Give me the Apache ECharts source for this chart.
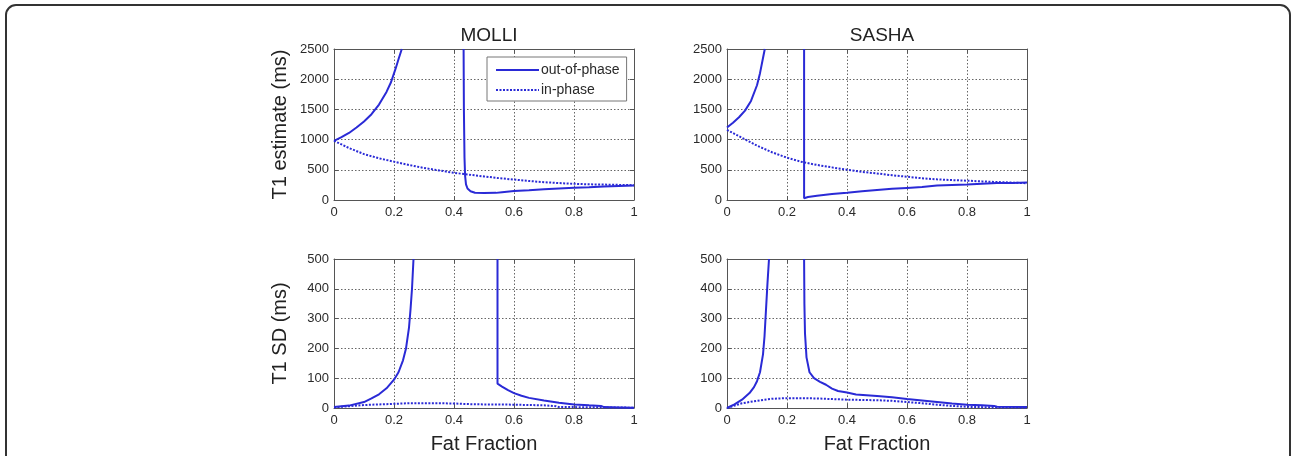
<!DOCTYPE html>
<html><head><meta charset="utf-8">
<script src="https://cdn.jsdelivr.net/npm/echarts@6/dist/echarts.min.js"></script>
<style>html,body{margin:0;padding:0;background:#fff}#c{width:1292px;height:456px}</style>
</head><body><div id="c"></div>
<script>
// ---- data (fat fraction, value in ms) ----
const panelTitles = ['MOLLI', 'SASHA'];
const legendNames = ['out-of-phase', 'in-phase'];
const xTicks = [0, 0.2, 0.4, 0.6, 0.8, 1];
const estTicks = [0, 500, 1000, 1500, 2000, 2500];
const sdTicks = [0, 100, 200, 300, 400, 500];

const molliEstOutA = [[0,980],[0.025,1040],[0.05,1110],[0.075,1200],[0.1,1300],[0.125,1420],[0.15,1580],[0.175,1790],[0.19,1950],[0.205,2170],[0.215,2330],[0.226,2500]];
const molliEstOutB = [[0.432,2500],[0.433,1500],[0.435,700],[0.437,400],[0.44,260],[0.445,190],[0.455,145],[0.47,120],[0.5,115],[0.54,118],[0.56,130],[0.6,148],[0.65,162],[0.7,178],[0.75,192],[0.8,203],[0.85,212],[0.9,225],[0.95,233],[1,240]];
const molliEstIn = [[0,980],[0.05,860],[0.1,760],[0.15,690],[0.2,635],[0.25,580],[0.3,530],[0.35,490],[0.4,450],[0.45,420],[0.5,390],[0.55,362],[0.6,338],[0.65,315],[0.7,295],[0.75,280],[0.8,268],[0.85,260],[0.9,255],[0.95,250],[1,245]];

const sashaEstOutA = [[0,1200],[0.02,1280],[0.04,1370],[0.06,1480],[0.08,1640],[0.1,1900],[0.11,2100],[0.12,2350],[0.126,2500]];
const sashaEstOutB = [[0.257,2500],[0.257,30],[0.27,50],[0.3,70],[0.35,100],[0.4,122],[0.45,145],[0.5,165],[0.55,185],[0.6,200],[0.65,215],[0.7,240],[0.75,250],[0.8,258],[0.85,270],[0.9,280],[0.95,283],[1,288]];
const sashaEstIn = [[0,1160],[0.05,1030],[0.1,900],[0.15,790],[0.2,700],[0.25,630],[0.3,580],[0.35,540],[0.4,500],[0.45,465],[0.5,440],[0.55,410],[0.6,385],[0.65,360],[0.7,342],[0.75,330],[0.8,320],[0.85,308],[0.9,298],[0.95,288],[1,278]];

const molliSdOutA = [[0,3],[0.05,8],[0.1,20],[0.125,32],[0.15,46],[0.175,66],[0.2,95],[0.215,120],[0.23,160],[0.24,200],[0.25,270],[0.255,330],[0.26,400],[0.265,500]];
const molliSdOutB = [[0.545,500],[0.545,82],[0.56,72],[0.58,60],[0.6,50],[0.625,41],[0.65,34],[0.7,25],[0.75,18],[0.8,12],[0.85,9],[0.89,7],[0.9,3],[0.95,2],[1,1]];
const molliSdIn = [[0,2],[0.05,6],[0.1,10],[0.15,12],[0.2,14],[0.25,16],[0.3,16],[0.35,16],[0.4,15],[0.45,13],[0.5,12],[0.55,12],[0.6,11],[0.65,10],[0.7,9],[0.74,6],[0.75,3],[0.8,3],[0.9,2],[1,1]];

const sashaSdOutA = [[0,0],[0.025,12],[0.05,28],[0.075,50],[0.09,70],[0.1,90],[0.11,120],[0.12,180],[0.125,240],[0.13,330],[0.135,420],[0.14,500]];
const sashaSdOutB = [[0.257,500],[0.258,350],[0.26,250],[0.265,170],[0.275,120],[0.29,100],[0.31,88],[0.33,78],[0.35,65],[0.37,57],[0.4,52],[0.43,45],[0.5,40],[0.55,36],[0.6,30],[0.65,25],[0.7,20],[0.75,15],[0.8,11],[0.85,9],[0.89,7],[0.9,4],[1,3]];
const sashaSdIn = [[0,0],[0.05,16],[0.1,24],[0.15,31],[0.2,33],[0.25,33],[0.3,32],[0.35,30],[0.4,28],[0.5,26],[0.55,24],[0.6,20],[0.65,16],[0.7,11],[0.75,7],[0.8,4],[0.9,2],[1,1]];

// ---- chart ----
const BLUE = '#2a2ad6';
const FONT = 'Liberation Sans, Arial, sans-serif';
const grids = [
  {left: 334, top: 49, width: 300, height: 151},
  {left: 727, top: 49, width: 300, height: 151},
  {left: 334, top: 259, width: 300, height: 149},
  {left: 727, top: 259, width: 300, height: 149}
];
const yRanges = [estTicks, estTicks, sdTicks, sdTicks];
const yNames = ['T1 estimate (ms)', '', 'T1 SD (ms)', ''];
const xNames = ['', '', 'Fat Fraction', 'Fat Fraction'];

const xAxes = [], yAxes = [];
grids.forEach((g, i) => {
  const yt = yRanges[i];
  xAxes.push({
    type: 'value', gridIndex: i, min: xTicks[0], max: xTicks[xTicks.length-1], interval: xTicks[1]-xTicks[0],
    position: 'bottom',
    name: xNames[i], nameLocation: 'middle', nameGap: 26,
    nameTextStyle: {fontFamily: FONT, fontSize: 20, color: '#222'},
    axisLine: {show: true, onZero: false, lineStyle: {color: '#555', width: 1}},
    axisTick: {show: true, inside: true, length: 4, lineStyle: {color: '#555'}},
    axisLabel: {fontFamily: FONT, fontSize: 13, color: '#2a2a2a', margin: 6, formatter: v => String(+v.toFixed(1))},
    splitLine: {show: true, lineStyle: {color: '#666', type: [1.5, 2], width: 1}}
  });
  xAxes.push({
    type: 'value', gridIndex: i, min: xTicks[0], max: xTicks[xTicks.length-1], interval: xTicks[1]-xTicks[0],
    position: 'top',
    axisLine: {show: true, onZero: false, lineStyle: {color: '#555', width: 1}},
    axisTick: {show: true, inside: true, length: 4, lineStyle: {color: '#555'}},
    axisLabel: {show: false}, splitLine: {show: false}
  });
  yAxes.push({
    type: 'value', gridIndex: i, min: yt[0], max: yt[yt.length-1], interval: yt[1]-yt[0],
    position: 'left',
    name: yNames[i], nameLocation: 'middle', nameGap: 44, nameRotate: 90,
    nameTextStyle: {fontFamily: FONT, fontSize: 20, color: '#222'},
    axisLine: {show: true, onZero: false, lineStyle: {color: '#555', width: 1}},
    axisTick: {show: true, inside: true, length: 4, lineStyle: {color: '#555'}},
    axisLabel: {fontFamily: FONT, fontSize: 13, color: '#2a2a2a', margin: 5, formatter: v => String(v)},
    splitLine: {show: true, lineStyle: {color: '#666', type: [1.5, 2], width: 1}}
  });
  yAxes.push({
    type: 'value', gridIndex: i, min: yt[0], max: yt[yt.length-1], interval: yt[1]-yt[0],
    position: 'right',
    axisLine: {show: true, onZero: false, lineStyle: {color: '#555', width: 1}},
    axisTick: {show: true, inside: true, length: 4, lineStyle: {color: '#555'}},
    axisLabel: {show: false}, splitLine: {show: false}
  });
});

const panelData = [
  [molliEstOutA, molliEstOutB, molliEstIn],
  [sashaEstOutA, sashaEstOutB, sashaEstIn],
  [molliSdOutA, molliSdOutB, molliSdIn],
  [sashaSdOutA, sashaSdOutB, sashaSdIn]
];
const series = [];
panelData.forEach((arrs, i) => {
  const base = {type: 'line', xAxisIndex: 2*i, yAxisIndex: 2*i, symbol: 'none', silent: true, animation: false, clip: true};
  series.push(Object.assign({}, base, {name: legendNames[1], data: arrs[2], z: 2,
    lineStyle: {color: BLUE, width: 2, type: [2, 1.5]}, itemStyle: {color: BLUE}}));
  series.push(Object.assign({}, base, {name: legendNames[0], data: arrs[0], z: 3,
    lineStyle: {color: BLUE, width: 2, type: 'solid'}, itemStyle: {color: BLUE}}));
  series.push(Object.assign({}, base, {name: legendNames[0], data: arrs[1], z: 3,
    lineStyle: {color: BLUE, width: 2, type: 'solid'}, itemStyle: {color: BLUE}}));
});

const option = {
  backgroundColor: '#fff',
  animation: false,
  title: [
    {text: panelTitles[0], left: 484, top: 21, textAlign: 'center', textStyle: {fontFamily: FONT, fontSize: 19, fontWeight: 'normal', color: '#222'}},
    {text: panelTitles[1], left: 877, top: 21, textAlign: 'center', textStyle: {fontFamily: FONT, fontSize: 19, fontWeight: 'normal', color: '#222'}}
  ],
  legend: {
    data: legendNames, orient: 'vertical', left: 487, top: 57,
    padding: [6, 7, 4, 8], itemGap: 6, itemWidth: 43, itemHeight: 14,
    backgroundColor: '#fff', borderColor: '#777', borderWidth: 1, borderRadius: 0,
    selectedMode: false,
    itemStyle: {opacity: 0, color: 'rgba(0,0,0,0)', borderWidth: 0},
    textStyle: {fontFamily: FONT, fontSize: 14, color: '#2a2a2a', padding: [0, 0, 0, -3]}
  },
  graphic: [{
    type: 'rect', silent: true, z: 100,
    shape: {x: 6, y: 5, width: 1284, height: 520, r: 10},
    style: {fill: 'none', stroke: '#333', lineWidth: 2}
  }],
  grid: grids.map(g => Object.assign({containLabel: false, show: false}, g)),
  xAxis: xAxes,
  yAxis: yAxes,
  series: series
};
const chart = echarts.init(document.getElementById('c'), null, {renderer: 'canvas'});
chart.setOption(option);
</script>
</body></html>
